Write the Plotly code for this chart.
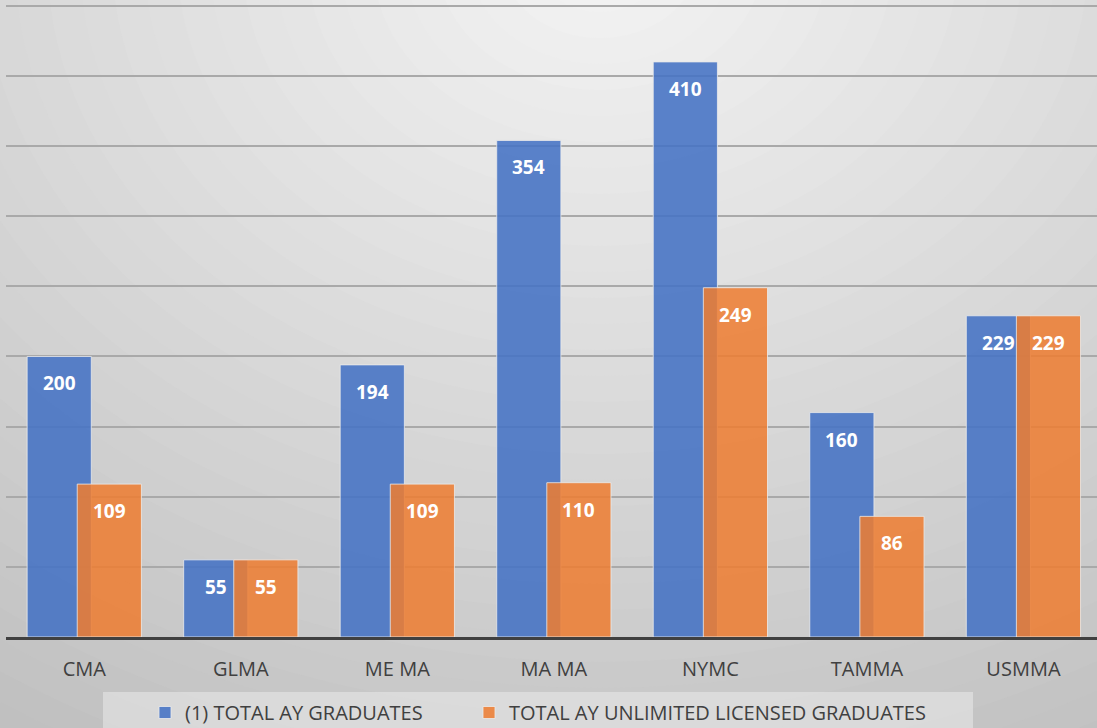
import plotly.graph_objects as go

categories = ["CMA", "GLMA", "ME MA", "MA MA", "NYMC", "TAMMA", "USMMA"]
total_graduates = [200, 55, 194, 354, 410, 160, 229]
licensed_graduates = [109, 55, 109, 110, 249, 86, 229]
series_names = ["(1) TOTAL AY GRADUATES", "TOTAL AY UNLIMITED LICENSED GRADUATES"]

W, H = 1097, 728
ML, MR, MT, MB = 6, 0, 3, 91
PW, PH = W - ML - MR, H - MT - MB

def px2paper(x, y):
    return (x - ML) / PW, (H - MB - y) / PH

BLUE = "rgba(68,114,196,0.88)"
ORANGE = "rgba(237,125,49,0.86)"
FONT = "Open Sans"

fig = go.Figure()
fig.add_trace(go.Bar(
    x=categories, y=total_graduates, name=series_names[0],
    marker=dict(color=BLUE, line=dict(color="rgba(235,235,235,0.8)", width=1)),
    width=0.41, offset=-0.365, legend="legend",
))
fig.add_trace(go.Bar(
    x=categories, y=licensed_graduates, name=series_names[1],
    marker=dict(color=ORANGE, line=dict(color="rgba(235,235,235,0.8)", width=1)),
    width=0.41, offset=-0.045, legend="legend2",
))

# data labels
annotations = []
for i, v in enumerate(total_graduates):
    annotations.append(dict(x=i - 0.16, y=v, xref="x", yref="y", text=str(v),
                            showarrow=False, yshift=-27, yanchor="middle",
                            font=dict(family=FONT, size=19, color="white", weight="bold")))
for i, v in enumerate(licensed_graduates):
    annotations.append(dict(x=i + 0.16, y=v, xref="x", yref="y", text=str(v),
                            showarrow=False, yshift=-27, yanchor="middle",
                            font=dict(family=FONT, size=19, color="white", weight="bold")))

# background radial-ish gradient
shapes = []
cx, cy = 600, -40
RX, RY = 1000, 800
def gray(t):
    g = int(round(244 - 46 * t))
    g = max(min(g, 245), 180)
    return f"rgb({g},{g},{g})"
n = 40
tmax = 1.3
for k in range(n, 0, -1):
    t = tmax * k / n
    x0, y0 = px2paper(cx - t * RX, cy + t * RY)
    x1, y1 = px2paper(cx + t * RX, cy - t * RY)
    shapes.append(dict(type="circle", xref="paper", yref="paper", x0=x0, x1=x1, y0=y0, y1=y1,
                       fillcolor=gray(t), line=dict(width=0), layer="below"))
# legend box
lx0, ly0 = px2paper(103, 692)
lx1, ly1 = px2paper(973, 740)
shapes.append(dict(type="rect", xref="paper", yref="paper", x0=lx0, x1=lx1, y0=ly1, y1=ly0,
                   fillcolor="rgba(238,238,238,0.5)", line=dict(width=0), layer="below"))

leg_y = px2paper(0, 693)[1]
legfont = dict(family=FONT, size=20, color="#404040")
fig.update_layout(
    width=W, height=H,
    margin=dict(l=ML, r=MR, t=MT, b=MB, autoexpand=False),
    barmode="overlay",
    paper_bgcolor=gray(tmax),
    plot_bgcolor="rgba(0,0,0,0)",
    shapes=shapes,
    annotations=annotations,
    showlegend=True,
    legend=dict(orientation="h", x=px2paper(145, 0)[0], xanchor="left", y=leg_y, yanchor="top",
                bgcolor="rgba(0,0,0,0)", font=legfont),
    legend2=dict(orientation="h", x=px2paper(469, 0)[0], xanchor="left", y=leg_y, yanchor="top",
                 bgcolor="rgba(0,0,0,0)", font=legfont),
    font=dict(family=FONT, color="#404040"),
)
fig.update_xaxes(showline=True, linecolor="#404040", linewidth=2.5, showgrid=False,
                 tickfont=dict(family=FONT, size=20, color="#404040"),
                 ticks="", ticklabelstandoff=12, range=[-0.5, 6.47])
fig.update_yaxes(range=[0, 452], dtick=50, showgrid=True, gridcolor="#a9a9a9", gridwidth=1.5,
                 showticklabels=False, zeroline=False, ticks="")

fig.write_html("out.html", config={"displayModeBar": False},
               post_script="document.body.style.margin='0';document.body.style.padding='0';document.body.style.overflow='hidden';")
